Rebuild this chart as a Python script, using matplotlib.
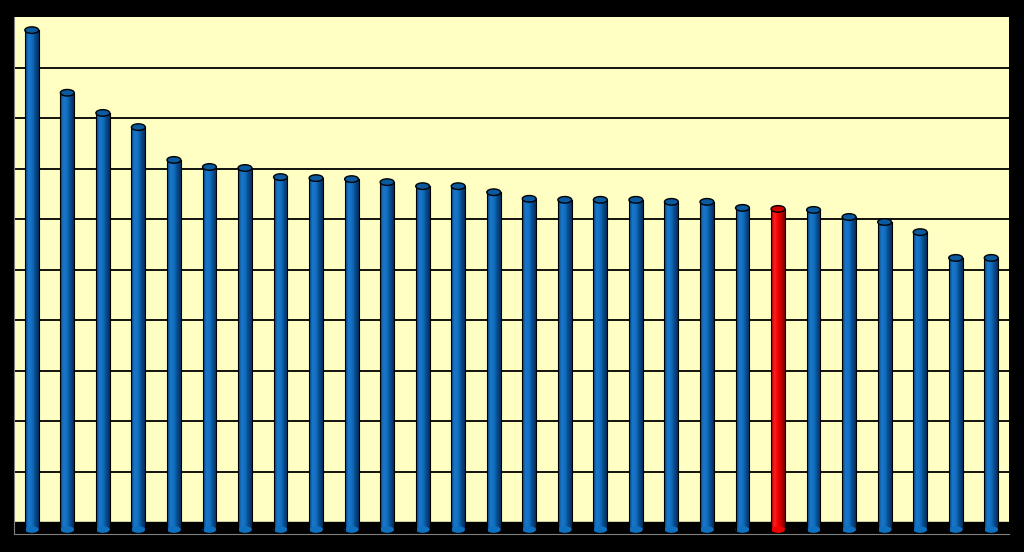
import matplotlib
matplotlib.use('Agg')
import matplotlib.pyplot as plt
import numpy as np
from matplotlib.patches import Ellipse, Rectangle
from matplotlib.colors import LinearSegmentedColormap

# Valores (28 barras, em ordem decrescente)
valores = [9.74, 8.50, 8.10, 7.82, 7.17, 7.03, 7.01, 6.83, 6.81, 6.79,
           6.73, 6.65, 6.65, 6.53, 6.40, 6.38, 6.38, 6.38, 6.34, 6.34,
           6.22, 6.20, 6.18, 6.04, 5.94, 5.74, 5.23, 5.23]
destaque = 21  # barra vermelha

# Cores
cor_fundo = '#ffffc4'
azul = LinearSegmentedColormap.from_list('azul', ['#0a3f78', '#1a78cc', '#1070c0', '#0a4a8c', '#062e5a'])
vermelho = LinearSegmentedColormap.from_list('verm', ['#a00000', '#ff2020', '#f00000', '#c00000', '#700000'])

fig = plt.figure(figsize=(10.24, 5.52), dpi=100, facecolor='black')
ax = fig.add_axes([14 / 1024, 18 / 552, 995 / 1024, 517 / 552])
ax.set_facecolor(cor_fundo)

piso = -12 / 50.5
ax.set_xlim(-0.5, len(valores) - 0.5)
ax.set_ylim(piso, 10)

# Linhas de grade
for y in range(1, 10):
    ax.axhline(y, color='black', lw=1.3, zorder=1)

# Piso preto
ax.axhspan(piso, 0, color='black', zorder=1)

largura = 0.39
alt_elipse = 0.13
base = -0.15
gradiente = np.linspace(0, 1, 64).reshape(1, -1)

for i, v in enumerate(valores):
    cmap = vermelho if i == destaque else azul
    x0 = i - largura / 2
    # corpo do cilindro com gradiente
    corpo = Rectangle((x0, base), largura, v - base, facecolor='none', edgecolor='none', zorder=2)
    ax.add_patch(corpo)
    im = ax.imshow(gradiente, extent=[x0, x0 + largura, base, v], aspect='auto',
                   cmap=cmap, zorder=2, interpolation='bilinear')
    im.set_clip_path(corpo)
    # base arredondada
    ax.add_patch(Ellipse((i, base), largura, alt_elipse, facecolor=cmap(0.5), edgecolor='none', zorder=2))
    # contorno lateral
    ax.plot([x0, x0], [base, v], color='black', lw=0.8, zorder=3)
    ax.plot([x0 + largura, x0 + largura], [base, v], color='black', lw=0.8, zorder=3)
    # tampa
    cor_tampa = '#d00000' if i == destaque else '#0b5aa0'
    ax.add_patch(Ellipse((i, v), largura, alt_elipse, facecolor=cor_tampa, edgecolor='black', lw=1.0, zorder=4))

ax.set_xticks([])
ax.set_yticks([])
for lado in ['top', 'right']:
    ax.spines[lado].set_visible(False)
ax.spines['left'].set_color('#808080')
ax.spines['bottom'].set_color('#808080')

fig.savefig('out.png', dpi=100, facecolor='black')
